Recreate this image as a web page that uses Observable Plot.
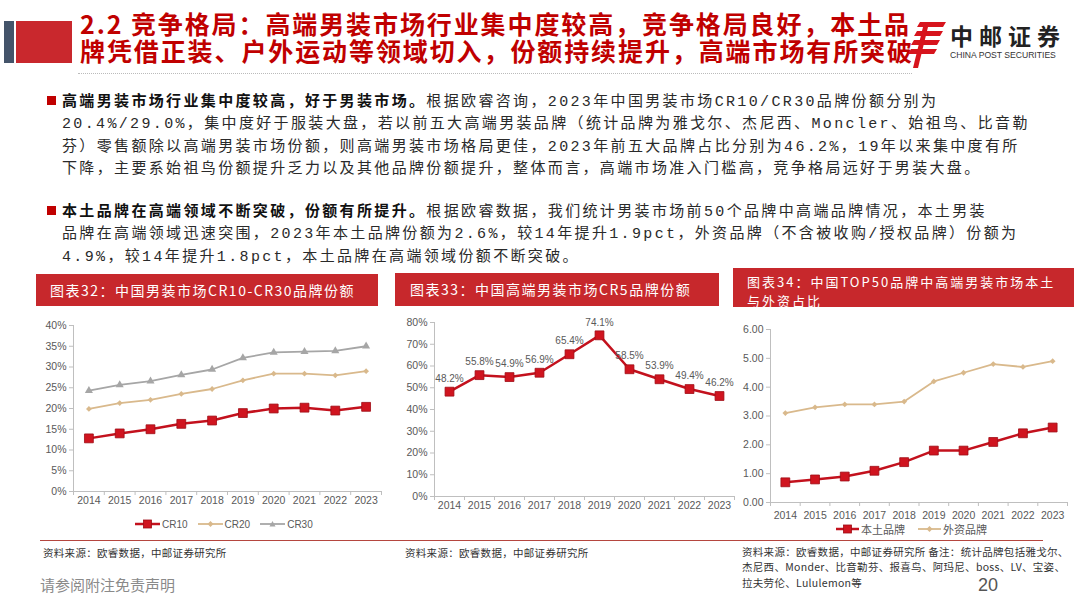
<!DOCTYPE html>
<html><head><meta charset="utf-8">
<script src="https://cdn.jsdelivr.net/npm/d3@7"></script>
<script src="https://cdn.jsdelivr.net/npm/@observablehq/plot@0.6"></script>
<style>
body{margin:0;width:1080px;height:608px;overflow:hidden;background:#fff;font-family:"Noto Sans CJK SC",sans-serif;position:relative}
.abs{position:absolute}
.title{left:80px;font-size:25px;font-weight:bold;color:#c00000;line-height:26px;letter-spacing:1.9px;white-space:nowrap}
.para{left:62px;font-size:15px;line-height:22.4px;color:#2a2a2a;letter-spacing:2.35px;white-space:nowrap;font-family:"Liberation Mono","Noto Sans CJK SC",monospace}
.para b{font-weight:bold;color:#111;font-family:"Noto Sans CJK SC",sans-serif}
.bullet{width:9px;height:9px;background:#c00000}
.bar{background:#c7282c}
.bt{color:#fff;font-size:14px;letter-spacing:1.5px;white-space:nowrap}
.src{font-size:10.5px;color:#333;line-height:13px;white-space:nowrap;letter-spacing:0.3px}
.legend{display:flex;align-items:center;font-family:"Liberation Sans",Arial,sans-serif;font-size:10px;color:#595959;white-space:nowrap}
.legend .it{display:flex;align-items:center;margin-right:10px}
.legend svg{margin-right:2px}
</style>
</head><body>
<div class="abs" style="left:4px;top:21px;width:10px;height:42px;background:#44546a"></div>
<div class="abs" style="left:16px;top:21px;width:56px;height:42px;background:#c9282d"></div>
<div class="abs title" style="top:10px">2.2 竞争格局：高端男装市场行业集中度较高，竞争格局良好，本土品</div>
<div class="abs title" style="top:37px">牌凭借正装、户外运动等领域切入，份额持续提升，高端市场有所突破</div>
<div class="abs" style="left:78px;top:73px;width:834px;border-top:1px dotted #bbb"></div>
<svg class="abs" style="left:906px;top:20px" width="42" height="50" viewBox="0 0 42 50">
  <g fill="#d7141d">
    <polygon points="14,2 40,2 37,7 11,7"/>
    <polygon points="11,11 37,11 34,16 8,16"/>
    <polygon points="8,20 34,20 31,25 5,25"/>
    <polygon points="5,29 31,29 28,34 2,34"/>
    <polygon points="17,7 22,7 12,48 7,48"/>
  </g>
</svg>
<div class="abs" style="left:950px;top:18px;font-size:23px;font-weight:bold;color:#222;letter-spacing:6px;white-space:nowrap">中邮证券</div>
<div class="abs" style="left:950px;top:50px;font-size:8.6px;color:#333;font-family:'Liberation Sans',Arial,sans-serif;white-space:nowrap">CHINA POST SECURITIES</div>

<div class="abs bullet" style="left:47px;top:96px"></div>
<div class="abs para" style="top:89px"><b>高端男装市场行业集中度较高，好于男装市场。</b>根据欧睿咨询，2023年中国男装市场CR10/CR30品牌份额分别为<br>20.4%/29.0%，集中度好于服装大盘，若以前五大高端男装品牌（统计品牌为雅戈尔、杰尼西、Moncler、始祖鸟、比音勒<br>芬）零售额除以高端男装市场份额，则高端男装市场格局更佳，2023年前五大品牌占比分别为46.2%，19年以来集中度有所<br>下降，主要系始祖鸟份额提升乏力以及其他品牌份额提升，整体而言，高端市场准入门槛高，竞争格局远好于男装大盘。</div>
<div class="abs bullet" style="left:47px;top:206px"></div>
<div class="abs para" style="top:199px"><b>本土品牌在高端领域不断突破，份额有所提升。</b>根据欧睿数据，我们统计男装市场前50个品牌中高端品牌情况，本土男装<br>品牌在高端领域迅速突围，2023年本土品牌份额为2.6%，较14年提升1.9pct，外资品牌（不含被收购/授权品牌）份额为<br>4.9%，较14年提升1.8pct，本土品牌在高端领域份额不断突破。</div>

<div class="abs bar" style="left:36px;top:274px;width:342px;height:32px"></div>
<div class="abs bt" style="left:50px;top:281px;line-height:18px">图表32：中国男装市场CR10-CR30品牌份额</div>
<div class="abs bar" style="left:395px;top:273px;width:324px;height:33px"></div>
<div class="abs bt" style="left:410px;top:280px;line-height:18px">图表33：中国高端男装市场CR5品牌份额</div>
<div class="abs bar" style="left:733px;top:268px;width:341px;height:39px"></div>
<div class="abs bt" style="left:747px;top:272px;line-height:19px;font-size:13px;letter-spacing:2px">图表34：中国TOP50品牌中高端男装市场本土</div>
<div class="abs bt" style="left:747px;top:291px;line-height:19px;font-size:13px;letter-spacing:2px">与外资占比</div>

<div id="c1" class="abs" style="left:35px;top:312px"></div>
<div id="c2" class="abs" style="left:385px;top:310px"></div>
<div id="c3" class="abs" style="left:730px;top:315px"></div>

<div id="lg1" class="abs legend" style="left:135px;top:517px"></div>
<div id="lg3" class="abs legend" style="left:836px;top:521px;font-size:11px"></div>

<div class="abs" style="left:40px;top:540px;width:1003px;border-top:1px solid #b5463f"></div>
<div class="abs src" style="left:43px;top:545.5px">资料来源：欧睿数据，中邮证券研究所</div>
<div class="abs src" style="left:405px;top:545.5px">资料来源：欧睿数据，中邮证券研究所</div>
<div class="abs src" style="left:742px;top:545px">资料来源：欧睿数据，中邮证券研究所 备注：统计品牌包括雅戈尔、</div>
<div class="abs src" style="left:742px;top:560px">杰尼西、Monder、比音勒芬、报喜鸟、阿玛尼、boss、LV、宝姿、</div>
<div class="abs src" style="left:742px;top:576px">拉夫劳伦、Lululemon等</div>
<div class="abs" style="left:40px;top:574px;font-size:15px;color:#8a8a8a;white-space:nowrap">请参阅附注免责声明</div>
<div class="abs" style="left:978px;top:578px;font-size:18px;line-height:14px;color:#555;font-family:'Liberation Sans',Arial,sans-serif">20</div>

<script>
// ---- data ----
const years = [2014, 2015, 2016, 2017, 2018, 2019, 2020, 2021, 2022, 2023];
const cr10 = [12.8, 14.0, 15.0, 16.3, 17.1, 18.9, 20.0, 20.2, 19.5, 20.4];
const cr20 = [19.9, 21.3, 22.1, 23.5, 24.7, 26.8, 28.4, 28.4, 28.0, 29.0];
const cr30 = [24.3, 25.7, 26.6, 28.1, 29.4, 32.2, 33.5, 33.7, 33.9, 35.0];
const cr5 = [48.2, 55.8, 54.9, 56.9, 65.4, 74.1, 58.5, 53.9, 49.4, 46.2];
const domestic = [0.7, 0.8, 0.9, 1.1, 1.4, 1.8, 1.8, 2.1, 2.4, 2.6];
const foreign = [3.1, 3.3, 3.4, 3.4, 3.5, 4.2, 4.5, 4.8, 4.7, 4.9];
const yTicks1 = [0, 5, 10, 15, 20, 25, 30, 35, 40];
const yTicks2 = [0, 10, 20, 30, 40, 50, 60, 70, 80];
const yTicks3 = [0, 1, 2, 3, 4, 5, 6];
const series1 = ["CR10", "CR20", "CR30"];
const series3 = ["本土品牌", "外资品牌"];

// ---- styles ----
const RED = "#c3111d", RED_FILL = "#d0141f", RED_STROKE = "#9e0c15";
const TAN = "#d9b98c", GRAY = "#a6a6a6", AXIS = "#bfbfbf", TXT = "#595959";

const rows = years.map((year, i) => ({year, cr10: cr10[i], cr20: cr20[i], cr30: cr30[i], cr5: cr5[i], domestic: domestic[i], foreign: foreign[i]}));
const bounds = [years[0] - 0.5, ...years.map(y => y + 0.5)];
const baseStyle = {fontFamily: "'Liberation Sans', Arial, sans-serif", fontSize: "10.5px", color: TXT, background: "transparent", overflow: "visible"};

function axes(yTicks, fmt, pad) {
  return [
    Plot.ruleX([bounds[0]], {stroke: AXIS}),
    Plot.ruleY([yTicks[0]], {stroke: AXIS}),
    Plot.axisY({ticks: yTicks, tickFormat: fmt, tickSize: 4, tickPadding: 3, stroke: AXIS, fill: TXT, label: null}),
    Plot.axisX({ticks: bounds, tickFormat: () => "", tickSize: 4, stroke: AXIS, label: null}),
    Plot.axisX({ticks: years, tickFormat: d => String(d), tickSize: 0, tickPadding: pad, fill: TXT, label: null})
  ];
}

// Chart 1
const c1 = Plot.plot({
  width: 348, height: 200, marginLeft: 38, marginRight: 2, marginTop: 13, marginBottom: 21,
  x: {domain: [bounds[0], bounds[bounds.length - 1]]},
  y: {domain: [yTicks1[0], yTicks1[yTicks1.length - 1]]},
  style: baseStyle,
  marks: [
    ...axes(yTicks1, d => d + "%", 5),
    Plot.line(rows, {x: "year", y: "cr30", stroke: GRAY, strokeWidth: 1.8}),
    Plot.dot(rows, {x: "year", y: "cr30", symbol: "triangle", fill: GRAY, r: 3}),
    Plot.line(rows, {x: "year", y: "cr20", stroke: TAN, strokeWidth: 1.8}),
    Plot.dot(rows, {x: "year", y: "cr20", symbol: "diamond2", fill: TAN, r: 2.6}),
    Plot.line(rows, {x: "year", y: "cr10", stroke: RED, strokeWidth: 2.5}),
    Plot.dot(rows, {x: "year", y: "cr10", symbol: "square", fill: RED_FILL, stroke: RED_STROKE, strokeWidth: 0.8, r: 5})
  ]
});
document.getElementById("c1").appendChild(c1);

// Chart 2
const c2 = Plot.plot({
  width: 352, height: 208, marginLeft: 49, marginRight: 3, marginTop: 12, marginBottom: 22,
  x: {domain: [bounds[0], bounds[bounds.length - 1]]},
  y: {domain: [yTicks2[0], yTicks2[yTicks2.length - 1]]},
  style: baseStyle,
  marks: [
    ...axes(yTicks2, d => d + "%", 5.5),
    Plot.line(rows, {x: "year", y: "cr5", stroke: RED, strokeWidth: 2.5}),
    Plot.dot(rows, {x: "year", y: "cr5", symbol: "square", fill: RED_FILL, stroke: RED_STROKE, strokeWidth: 0.8, r: 5}),
    Plot.text(rows, {x: "year", y: "cr5", text: d => d.cr5.toFixed(1) + "%", dy: -13, fill: TXT, fontSize: 10})
  ]
});
document.getElementById("c2").appendChild(c2);

// Chart 3
const c3 = Plot.plot({
  width: 345, height: 207, marginLeft: 40, marginRight: 8, marginTop: 14, marginBottom: 20,
  x: {domain: [bounds[0], bounds[bounds.length - 1]]},
  y: {domain: [yTicks3[0], yTicks3[yTicks3.length - 1]]},
  style: baseStyle,
  marks: [
    ...axes(yTicks3, d => d.toFixed(2), 9.5),
    Plot.line(rows, {x: "year", y: "foreign", stroke: TAN, strokeWidth: 1.8}),
    Plot.dot(rows, {x: "year", y: "foreign", symbol: "diamond2", fill: TAN, r: 2.6}),
    Plot.line(rows, {x: "year", y: "domestic", stroke: RED, strokeWidth: 2.5}),
    Plot.dot(rows, {x: "year", y: "domestic", symbol: "square", fill: RED_FILL, stroke: RED_STROKE, strokeWidth: 0.8, r: 5})
  ]
});
document.getElementById("c3").appendChild(c3);

// Legends
function swatch(color, sym, w) {
  let m = "";
  if (sym === "square") m = `<rect x="${w/2-4}" y="3" width="8" height="8" fill="${RED_FILL}" stroke="${RED_STROKE}" stroke-width="0.8"/>`;
  if (sym === "diamond") m = `<polygon points="${w/2},4 ${w/2+3},7 ${w/2},10 ${w/2-3},7" fill="${color}"/>`;
  if (sym === "triangle") m = `<polygon points="${w/2},4 ${w/2+3},9.5 ${w/2-3},9.5" fill="${color}"/>`;
  return `<svg width="${w}" height="14"><line x1="0" x2="${w}" y1="7" y2="7" stroke="${color}" stroke-width="${sym === "square" ? 2.5 : 1.8}"/>${m}</svg>`;
}
const lg1Styles = [[RED, "square"], [TAN, "diamond"], [GRAY, "triangle"]];
document.getElementById("lg1").innerHTML = series1.map((s, i) => `<div class="it">${swatch(lg1Styles[i][0], lg1Styles[i][1], 25)}<span>${s}</span></div>`).join("");
const lg3Styles = [[RED, "square"], [TAN, "diamond"]];
document.getElementById("lg3").innerHTML = series3.map((s, i) => `<div class="it" style="margin-right:13px">${swatch(lg3Styles[i][0], lg3Styles[i][1], 23)}<span style="font-family:'Noto Sans CJK SC',sans-serif">${s}</span></div>`).join("");
</script>
</body></html>
